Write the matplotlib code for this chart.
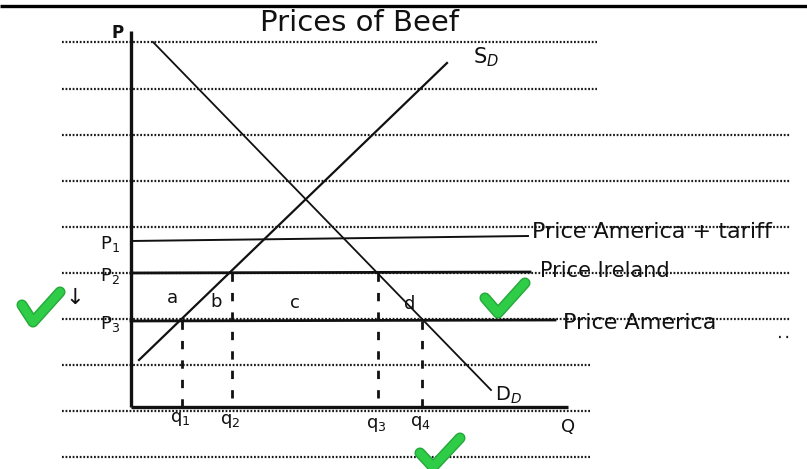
import matplotlib
matplotlib.use("Agg")
import matplotlib.pyplot as plt
import matplotlib.patheffects as pe

# ---- data (economic units: origin at axes corner) ----
demand_q = [22, 360]
demand_p = [365, 17]
supply_q = [8, 316]
supply_p = [47, 344]
price_names = ["Price America + tariff", "Price Ireland", "Price America"]
price_p_left = [166, 134, 86]
price_p_right = [171, 135, 87]
price_q_end = [397, 399, 424]
price_labels = ["P$_1$", "P$_2$", "P$_3$"]
q_values = [51, 101, 247, 291]
q_tops = [86, 134, 134, 86]
q_labels = ["q$_1$", "q$_2$", "q$_3$", "q$_4$"]
area_labels = ["a", "b", "c", "d"]
area_q = [41, 85, 164, 279]
area_p = [109, 105, 104, 103]
ruled_p = [365, 318, 272, 226, 180, 134, 88, 42, -4, -50]
ruled_q_end = [466, 466, 659, 659, 659, 659, 659, 459, 459, 459]

fig = plt.figure(figsize=(8.07, 4.69), dpi=100)
ax = fig.add_axes([0, 0, 1, 1])
ax.set_xlim(-131, 676)
ax.set_ylim(-62, 407)
ax.axis("off")

ink = "#111111"
# top border
ax.plot([-131, 676], [401, 401], color="black", lw=2.4, solid_capstyle="butt")

# ruled dotted paper lines
for p, qe in zip(ruled_p, ruled_q_end):
    ax.plot([-69, qe], [p, p], color="#1a1a1a", lw=1.6, linestyle=(0, (0.8, 0.8)))
ax.plot([648, 659], [70, 70], color="#1a1a1a", lw=1.6, linestyle=(0, (0.8, 2.5)))

# axes
ax.plot([0, 0], [376, 0], color=ink, lw=2.4, solid_capstyle="butt")
ax.plot([0, 437], [0, 0], color=ink, lw=2.4, solid_capstyle="butt")

# demand and supply
ax.plot(demand_q, demand_p, color=ink, lw=1.3)
ax.plot(supply_q, supply_p, color=ink, lw=1.6)

# price lines
widths = [1.4, 2.0, 2.0]
for pl, pr, qe, w in zip(price_p_left, price_p_right, price_q_end, widths):
    ax.plot([0, qe], [pl, pr], color=ink, lw=w)

# dashed quantity lines
for q, top in zip(q_values, q_tops):
    ax.plot([q, q], [top, 0], color=ink, lw=2.0, linestyle=(0, (3, 4)))

fs_hand = 13
# labels
ax.text(-13, 374, "P", fontsize=12, fontweight="bold", ha="center", va="center", color=ink)
ax.text(229, 384, "Prices of Beef", fontsize=21, ha="center", va="center", color=ink)
ax.text(355, 350, "S$_D$", fontsize=15, ha="center", va="center", color=ink)
ax.text(378, 12, "D$_D$", fontsize=14, ha="center", va="center", color=ink)
ax.text(437, -20, "Q", fontsize=13, ha="center", va="center", color=ink)
for q, lab, dy in zip(q_values, q_labels, [-12, -14, -18, -16]):
    ax.text(q - 2, dy, lab, fontsize=fs_hand, ha="center", va="center", color=ink)
for p, lab in zip(price_p_left, price_labels):
    ax.text(-21, p - 3, lab, fontsize=fs_hand, ha="center", va="center", color=ink)
for q, p, lab in zip(area_q, area_p, area_labels):
    ax.text(q, p, lab, fontsize=fs_hand, ha="center", va="center", color=ink)
ax.text(-56, 109, "\u2193", fontsize=16, ha="center", va="center", color=ink)

name_q = [401, 409, 432]
name_fs = [16, 15, 16]
for q, p, name, fs in zip(name_q, [175, 136, 84], price_names, name_fs):
    ax.text(q, p, name, fontsize=fs, ha="left", va="center", color=ink)

# green check marks
checks = [
    ([-109, -98, -71], [102, 85, 115]),
    ([354, 367, 394], [109, 94, 124]),
    ([289, 302, 329], [-46, -60, -31]),
]
for cx, cy in checks:
    ax.plot(cx, cy, color="#2ECC47", lw=6, solid_capstyle="round", solid_joinstyle="round",
            path_effects=[pe.Stroke(linewidth=8, foreground="#25A83A"), pe.Normal()])

fig.savefig("out.png", dpi=100)
